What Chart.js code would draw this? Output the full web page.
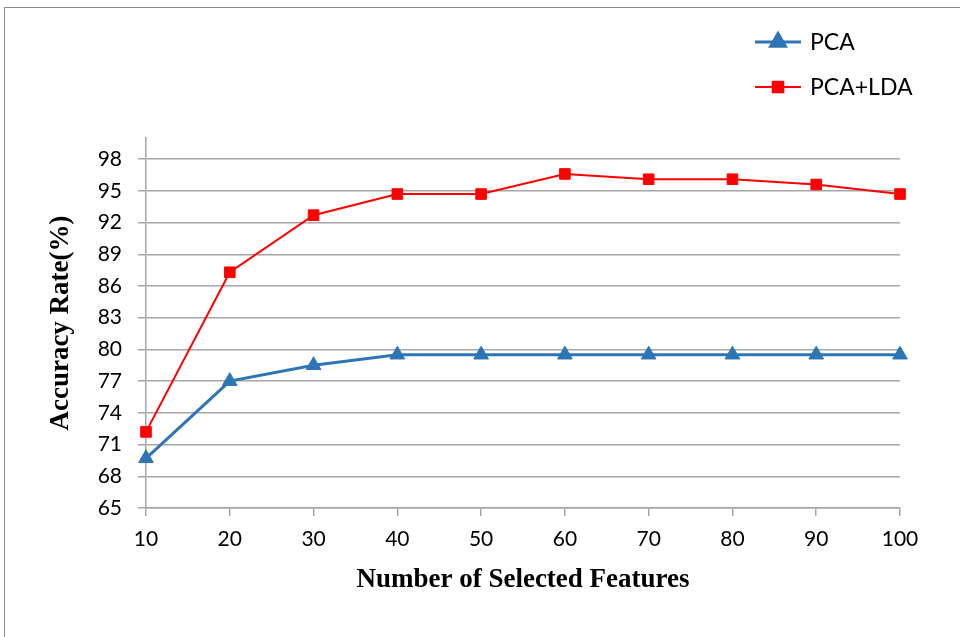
<!DOCTYPE html>
<html>
<head>
<meta charset="utf-8">
<script src="https://cdn.jsdelivr.net/npm/chart.js@4"></script>
<style>
  html, body { margin: 0; padding: 0; background: #fff; }
  #wrap { position: relative; width: 960px; height: 637px; }
  #frame { position: absolute; left: 4px; top: 7px; width: 970px; height: 650px;
           border-top: 1px solid #8c8c8c; border-left: 1px solid #8c8c8c; }
  canvas { position: absolute; left: 0; top: 0; }
</style>
</head>
<body>
<div id="wrap">
  <div id="frame"></div>
  <canvas id="myChart" width="960" height="637"></canvas>
</div>
<script>
/*------------------------------DATA--------------------------------------------*/

const features = ['10', '20', '30', '40', '50', '60', '70', '80', '90', '100'];
const pca = [69.7, 77.0, 78.5, 79.5, 79.5, 79.5, 79.5, 79.5, 79.5, 79.5];
const pcaLda = [72.2, 87.3, 92.7, 94.7, 94.7, 96.6, 96.1, 96.1, 95.6, 94.7];
const yTicks = [65, 68, 71, 74, 77, 80, 83, 86, 89, 92, 95, 98];

const tickFont = { family: 'Lato, "Noto Sans", sans-serif', size: 21 };
const titleFont = { family: '"Liberation Serif", "Times New Roman", serif', size: 27, weight: 'bold' };

/*------------------------------LEGEND--------------------------------------------*/

// legend drawn in the top right corner, like the original
const cornerLegend = {
    id: 'cornerLegend',
    afterDraw(chart) {
        const ctx = chart.ctx;
        const rows = [42, 87];
        chart.data.datasets.forEach((ds, i) => {
            const y = rows[i];
            ctx.save();
            ctx.strokeStyle = ds.borderColor;
            ctx.lineWidth = ds.borderWidth;
            ctx.beginPath();
            ctx.moveTo(755, y);
            ctx.lineTo(801, y);
            ctx.stroke();
            ctx.fillStyle = ds.pointBackgroundColor;
            ctx.strokeStyle = ds.pointBorderColor;
            Chart.helpers.drawPoint(ctx, {
                pointStyle: ds.pointStyle,
                radius: ds.pointRadius,
                borderWidth: 1,
                rotation: 0
            }, 778, y);
            ctx.fillStyle = '#000';
            ctx.font = '23px ' + tickFont.family;
            ctx.textBaseline = 'middle';
            ctx.textAlign = 'left';
            ctx.fillText(ds.label, 810, y + 1);
            ctx.restore();
        });
    }
};

/*------------------------------CHART--------------------------------------------*/

const data = {
    labels: features,
    datasets: [{
        label: 'PCA',
        data: pca,
        borderColor: '#2E75B6',
        backgroundColor: '#2E75B6',
        borderWidth: 3,
        pointStyle: 'triangle',
        pointRadius: 8.5,
        pointBackgroundColor: '#2E75B6',
        pointBorderColor: '#2E75B6',
        pointBorderWidth: 1
    }, {
        label: 'PCA+LDA',
        data: pcaLda,
        borderColor: '#FF0000',
        backgroundColor: '#FF0000',
        borderWidth: 2,
        pointStyle: 'rect',
        pointRadius: 7.5,
        pointBackgroundColor: '#FF0000',
        pointBorderColor: '#FF0000',
        pointBorderWidth: 1
    }]
};

const config = {
    type: 'line',
    data: data,
    plugins: [cornerLegend],
    options: {
        responsive: false,
        animation: false,
        layout: { padding: { left: 45, right: 60, top: 138, bottom: 40 } },
        plugins: {
            legend: { display: false },
            tooltip: { enabled: false }
        },
        scales: {
            x: {
                offset: false,
                grid: { display: true, drawOnChartArea: false, drawTicks: true, tickLength: 8, color: '#a6a6a6', lineWidth: 1.5 },
                border: { display: true, color: '#a6a6a6', width: 1.5 },
                ticks: { color: '#000', font: tickFont, padding: 11, maxRotation: 0 },
                title: { display: true, text: 'Number of Selected Features', color: '#000', font: titleFont, padding: { top: 0, bottom: 1 } },
                afterFit(scale) { scale.height = 637 - 508 - 40; }
            },
            y: {
                min: 65,
                max: 100,
                afterBuildTicks(scale) { scale.ticks = yTicks.map(v => ({ value: v })); },
                grid: { color: '#a6a6a6', lineWidth: 1.5, tickLength: 8 },
                border: { display: true, color: '#a6a6a6', width: 1.5 },
                ticks: { color: '#000', font: tickFont, padding: 16 },
                title: { display: true, text: 'Accuracy Rate(%)', color: '#000', font: titleFont, padding: 0 },
                afterFit(scale) { scale.width = 146 - 45; }
            }
        }
    }
};

const myChart = new Chart(
    document.getElementById('myChart'),
    config
);
</script>
</body>
</html>
